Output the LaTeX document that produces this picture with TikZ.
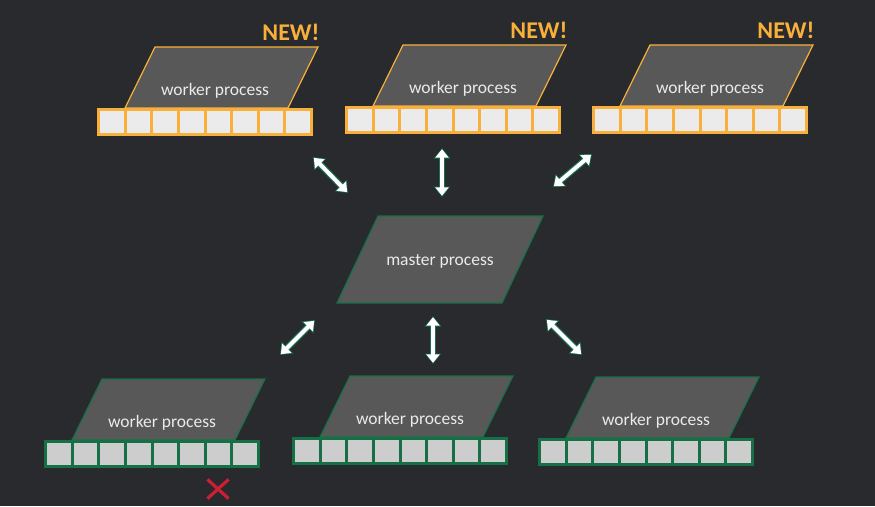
\documentclass[tikz,border=0pt]{standalone}
\usepackage{fontspec}
\setmainfont{Carlito}
\usetikzlibrary{shapes.misc,arrows.meta}

\definecolor{bgdark}{RGB}{40,42,45}
\definecolor{parafill}{RGB}{88,88,88}
\definecolor{neworange}{RGB}{248,176,58}
\definecolor{oldgreen}{RGB}{22,112,70}
\definecolor{arrowgreen}{RGB}{25,110,80}
\definecolor{cellnew}{RGB}{235,235,235}
\definecolor{cellold}{RGB}{205,205,205}
\definecolor{labelgray}{RGB}{235,235,235}
\definecolor{crossred}{RGB}{205,30,50}

\tikzset{
  procshape/.style={fill=parafill, line width=1.2, line join=miter},
  proclabel/.style={text=labelgray, font=\fontsize{17.5}{20}\selectfont, inner sep=0},
  newtag/.style={text=neworange, font=\bfseries\fontsize{24}{26}\selectfont, inner sep=0},
  link/.style={arrowgreen, line width=6.4,
    {Triangle[width=16pt,length=10.5pt]}-{Triangle[width=16pt,length=10.5pt]}},
  linkcore/.style={white, line width=4, shorten <=1.2pt, shorten >=1.2pt,
    {Triangle[width=13pt,length=8.5pt]}-{Triangle[width=13pt,length=8.5pt]}}
}

\begin{document}
\begin{tikzpicture}[x=1pt, y=-1pt]
  % background
  \useasboundingbox (0,0) rectangle (875,506);
  \fill[bgdark] (0,0) rectangle (875,506);

  % workers: name / bar left / bar top / border colour / cell colour
  \foreach \n/\L/\T/\c/\f in {wa/97/108/neworange/cellnew, wb/345/106/neworange/cellnew,
      wc/592/106/neworange/cellnew, wd/44/440/oldgreen/cellold,
      we/292/437/oldgreen/cellold, wf/538/438/oldgreen/cellold}{
    \draw[procshape, draw=\c] (\L+28,\T) -- ++(163,0) -- ++(30,-61) -- ++(-163,0) -- cycle;
    \node[proclabel] (\n) at (\L+118,\T-17) {worker process};
    \fill[\c] (\L,\T) rectangle ++(216,28);
    \foreach \i in {0,...,7}
      \fill[\f] (\L+3+\i*26.625,\T+3) rectangle ++(23.625,22);
  }

  % new workers
  \foreach \n/\L/\T in {wa/97/108, wb/345/106, wc/592/106}
    \node[newtag] (\n-new) at (\L+194,\T-76) {NEW!};

  % master
  \draw[procshape, draw=oldgreen] (337,303) -- ++(165,0) -- ++(41,-87) -- ++(-165,0) -- cycle;
  \node[proclabel] (master) at (440,261) {master process};

  % lost worker
  \node[cross out, draw=crossred, line width=3.2, minimum width=18, minimum height=16,
    inner sep=0] (lost) at (218,489) {};

  % arrow ends
  \coordinate (a1) at (313,157); \coordinate (b1) at (348,193);
  \coordinate (a2) at (442,148); \coordinate (b2) at (442,197);
  \coordinate (a3) at (592,154); \coordinate (b3) at (553,187);
  \coordinate (a4) at (315,320); \coordinate (b4) at (280,355);
  \coordinate (a5) at (433,316); \coordinate (b5) at (433,364);
  \coordinate (a6) at (546,319); \coordinate (b6) at (582,355);
  \foreach \k in {1,...,6}{
    \draw[link] (a\k) -- (b\k);
    \draw[linkcore] (a\k) -- (b\k);
  }
\end{tikzpicture}
\end{document}
